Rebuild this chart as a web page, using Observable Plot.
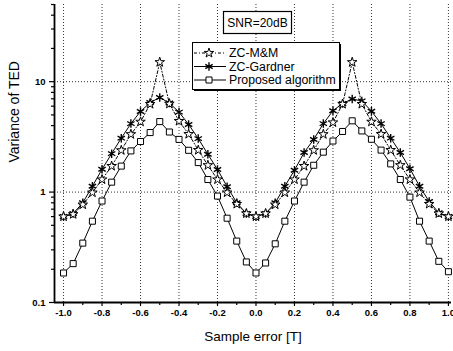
<!DOCTYPE html>
<html><head><meta charset="utf-8">
<script src="https://cdn.jsdelivr.net/npm/d3@7"></script>
<script src="https://cdn.jsdelivr.net/npm/@observablehq/plot@0.6"></script>
<style>
body{margin:0;background:#fff;}
#chart{position:relative;width:453px;height:351px;overflow:hidden;}
#overlay{position:absolute;left:0;top:0;pointer-events:none;}
</style></head><body><div id="chart"></div>
<script>
// ---- data ----
const sampleError = [-1.0,-0.95,-0.9,-0.85,-0.8,-0.75,-0.7,-0.65,-0.6,-0.55,-0.5,-0.45,-0.4,-0.35,-0.3,-0.25,-0.2,-0.15,-0.1,-0.05,0.0,
  0.05,0.1,0.15,0.2,0.25,0.3,0.35,0.4,0.45,0.5,0.55,0.6,0.65,0.7,0.75,0.8,0.85,0.9,0.95,1.0];
const zcMM = [0.6,0.63,0.77,0.99,1.3,1.72,2.39,3.34,4.33,6.27,15.0,6.3,4.4,3.35,2.4,1.75,1.3,0.99,0.78,0.64,0.6,
  0.64,0.77,0.99,1.3,1.72,2.39,3.34,4.27,6.27,15.0,6.27,4.33,3.35,2.4,1.75,1.3,0.99,0.78,0.64,0.6];
const zcGardner = [0.6,0.64,0.8,1.13,1.61,2.23,3.08,4.17,5.37,6.47,7.2,6.4,5.3,4.1,3.05,2.2,1.6,1.12,0.8,0.64,0.6,
  0.64,0.8,1.13,1.58,2.28,3.0,4.17,5.45,6.35,6.96,6.7,5.4,4.17,3.08,2.28,1.63,1.13,0.82,0.65,0.6];
const proposed = [0.185,0.225,0.345,0.545,0.83,1.23,1.72,2.36,2.87,3.46,4.35,3.5,3.0,2.39,1.85,1.3,0.92,0.58,0.36,0.233,0.185,
  0.228,0.34,0.545,0.83,1.23,1.75,2.3,2.9,3.54,4.42,3.58,3.01,2.4,1.8,1.3,0.9,0.545,0.36,0.236,0.19];
const seriesNames = ["ZC-M&M","ZC-Gardner","Proposed algorithm"];
const xTicks = [-1.0,-0.8,-0.6,-0.4,-0.2,0.0,0.2,0.4,0.6,0.8,1.0];
const xMinorTicks = [-0.9,-0.7,-0.5,-0.3,-0.1,0.1,0.3,0.5,0.7,0.9];
const yTicks = [0.1,1,10];
const yTickLabels = ["0.1","1","10"];
const yMinorTicks = [0.2,0.3,0.4,0.5,0.6,0.7,0.8,0.9,2,3,4,5,6,7,8,9,20,30,40,50];
const yGrid = [1,10];
const xLabel = "Sample error [T]";
const yLabel = "Variance of TED";
const annotation = "SNR=20dB";

const mk = (vals) => sampleError.map((x, i) => ({x, y: vals[i]}));
const mmData = mk(zcMM), gaData = mk(zcGardner), prData = mk(proposed);

const font = "'Liberation Sans', Arial, sans-serif";
const starR = 3, astR = 4, sqR = 3.4;
const plot = Plot.plot({
  width: 453, height: 351,
  marginLeft: 54, marginRight: 2, marginTop: 4, marginBottom: 49,
  style: {fontFamily: font, fontSize: "9.5px", color: "#000", background: "#fff", overflow: "visible"},
  x: {domain: [-1.047, 1.016]},
  y: {type: "log", domain: [0.1, 50]},
  marks: [
    Plot.gridX(xTicks, {stroke: "#000", strokeOpacity: 0.8, strokeDasharray: "1,2"}),
    Plot.gridY(yGrid, {stroke: "#000", strokeOpacity: 0.8, strokeDasharray: "1,2"}),
    Plot.line(mmData, {x: "x", y: "y", stroke: "#000", strokeWidth: 1, strokeDasharray: "3,2,1,2"}),
    Plot.line(gaData, {x: "x", y: "y", stroke: "#000", strokeWidth: 1}),
    Plot.line(prData, {x: "x", y: "y", stroke: "#000", strokeWidth: 1}),
    Plot.dot(prData, {x: "x", y: "y", symbol: "square", r: sqR, fill: "#fff", stroke: "#000", strokeWidth: 1}),
    Plot.dot(gaData, {x: "x", y: "y", symbol: "asterisk", r: astR, stroke: "#000", strokeWidth: 1.4}),
    Plot.dot(mmData, {x: "x", y: "y", symbol: "star", r: starR, fill: "#fff", stroke: "#000", strokeWidth: 1}),
    Plot.axisX(xTicks, {tickFormat: d => d.toFixed(1), tickSize: 4, tickPadding: 3, label: null, fontWeight: "bold", strokeWidth: 1.2}),
    Plot.axisX(xMinorTicks, {tickFormat: () => "", tickSize: 3, label: null, strokeWidth: 1.2}),
    Plot.axisY(yTicks, {tickFormat: d => yTickLabels[yTicks.indexOf(d)], tickSize: 5, tickPadding: 4, label: null, fontWeight: "bold", strokeWidth: 1.2}),
    Plot.axisY(yMinorTicks, {tickFormat: () => "", tickSize: 3, label: null, strokeWidth: 1.2}),
    Plot.ruleY([0.1], {stroke: "#000", strokeWidth: 1.8}),
    Plot.ruleX([-1.047], {stroke: "#000", strokeWidth: 1.8}),
    Plot.text([xLabel], {frameAnchor: "bottom", dy: 38, fontSize: 13.5, fill: "#000"}),
    Plot.text([yLabel], {frameAnchor: "left", rotate: -90, dx: -40, dy: 9, fontSize: 14, fill: "#000"})
  ]
});
const chart = document.getElementById("chart");
chart.appendChild(plot);

// ---- in-plot legend and annotation box (separate overlay svg) ----
const ov = d3.create("svg").attr("id", "overlay").attr("width", 453).attr("height", 351)
  .style("font-family", font);
// SNR box
ov.append("rect").attr("x", 223.5).attr("y", 11.5).attr("width", 68).attr("height", 22)
  .attr("fill", "#fff").attr("stroke", "#000").attr("stroke-width", 1.2);
ov.append("text").attr("x", 257.5).attr("y", 22.5).attr("text-anchor", "middle").attr("dy", "0.35em")
  .attr("font-size", 12).attr("fill", "#000").text(annotation);
// legend box with shadow
ov.append("rect").attr("x", 194).attr("y", 44).attr("width", 147).attr("height", 47).attr("fill", "#000");
ov.append("rect").attr("x", 192.5).attr("y", 42.5).attr("width", 147).attr("height", 47)
  .attr("fill", "#fff").attr("stroke", "#000").attr("stroke-width", 1);
const symbols = [d3.symbolStar, d3.symbolAsterisk, d3.symbolSquare];
const dashes = ["3,2,1,2", "none", "none"];
const sizes = [starR, astR, sqR];
seriesNames.forEach((name, i) => {
  const yy = 53 + i * 13.5;
  ov.append("line").attr("x1", 194).attr("x2", 226).attr("y1", yy).attr("y2", yy)
    .attr("stroke", "#000").attr("stroke-width", 1).attr("stroke-dasharray", dashes[i]);
  ov.append("path").attr("transform", `translate(209,${yy})`)
    .attr("d", d3.symbol(symbols[i], sizes[i] * sizes[i] * Math.PI)())
    .attr("fill", i === 1 ? "none" : "#fff").attr("stroke", "#000").attr("stroke-width", i === 1 ? 1.4 : 1);
  ov.append("text").attr("x", 229).attr("y", yy).attr("dy", "0.35em").attr("text-anchor", "start")
    .attr("font-size", 12.3).attr("fill", "#000").text(name);
});
chart.appendChild(ov.node());
</script></body></html>
